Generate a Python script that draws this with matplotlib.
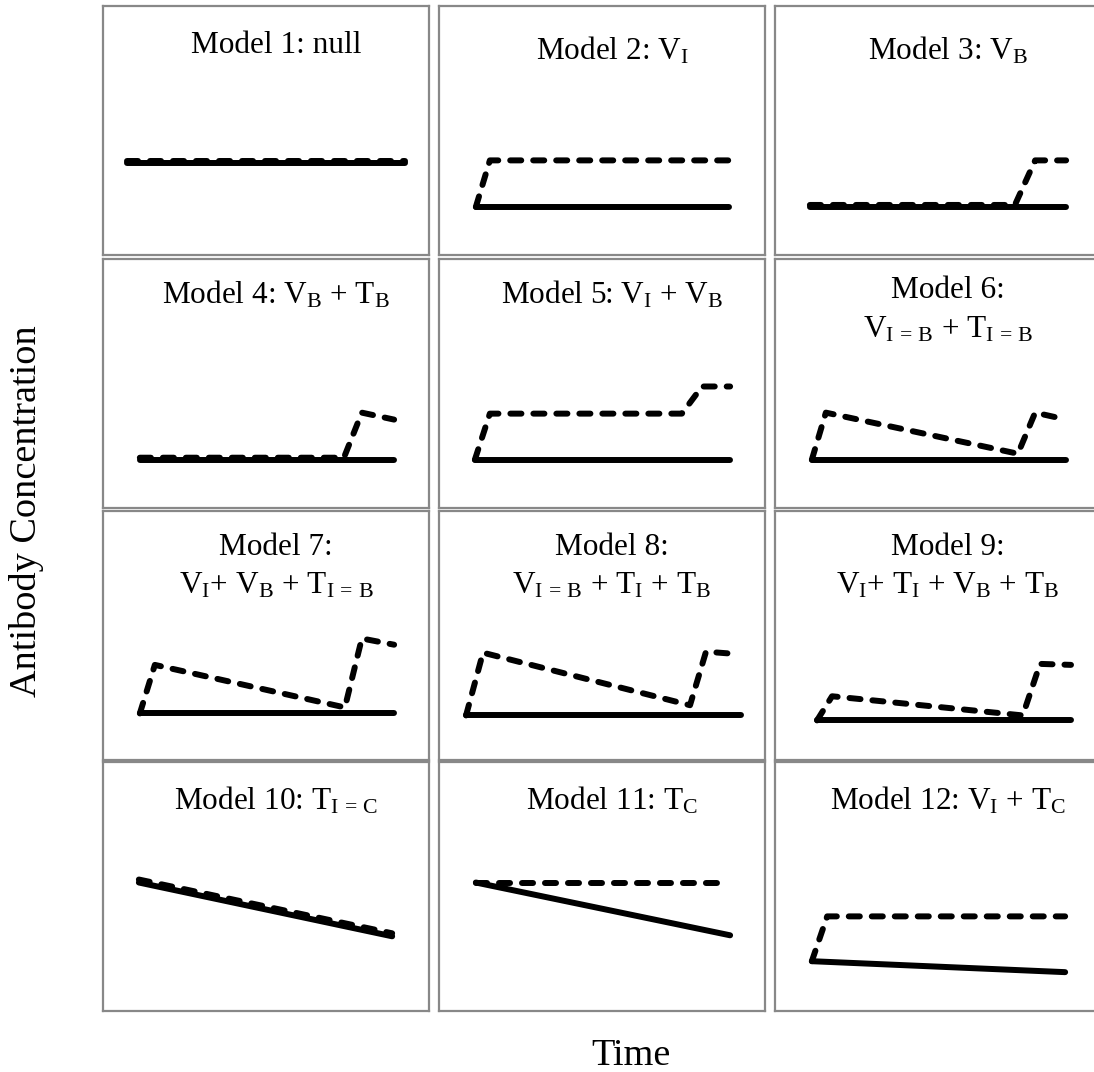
import matplotlib
matplotlib.use('Agg')
from matplotlib import pyplot as plt

plt.rcParams['font.family'] = ['Liberation Serif', 'DejaVu Serif']
plt.rcParams['mathtext.fontset'] = 'custom'
plt.rcParams['mathtext.rm'] = 'Liberation Serif'
plt.rcParams['mathtext.it'] = 'Liberation Serif'

# panel titles, row by row (second line empty for one-line titles)
title_1 = [
  'Model 1: null',
  r'Model 2: $\mathrm{V_I}$',
  r'Model 3: $\mathrm{V_B}$',
  r'Model 4: $\mathrm{V_B}$ + $\mathrm{T_B}$',
  r'Model 5: $\mathrm{V_I}$ + $\mathrm{V_B}$',
  'Model 6:',
  'Model 7:',
  'Model 8:',
  'Model 9:',
  r'Model 10: $\mathrm{T_{I\,=\,C}}$',
  r'Model 11: $\mathrm{T_C}$',
  r'Model 12: $\mathrm{V_I}$ + $\mathrm{T_C}$',
]
title_2 = [
  '', '', '',
  '', '', r'$\mathrm{V_{I\,=\,B}}$ + $\mathrm{T_{I\,=\,B}}$',
  r'$\mathrm{V_I}$+ $\mathrm{V_B}$ + $\mathrm{T_{I\,=\,B}}$',
  r'$\mathrm{V_{I\,=\,B}}$ + $\mathrm{T_I}$ + $\mathrm{T_B}$',
  r'$\mathrm{V_I}$+ $\mathrm{T_I}$ + $\mathrm{V_B}$ + $\mathrm{T_B}$',
  '', '', '',
]

# solid line (baseline) per model: time, concentration (0-100 scale)
solid_t = [
  [7.4, 92.6], [11.3, 89.0], [10.7, 89.3],
  [11.3, 89.3], [11.0, 89.3], [11.3, 89.3],
  [11.3, 89.3], [8.3, 92.6], [12.9, 90.8],
  [11.0, 88.7], [11.3, 89.3], [11.3, 89.0],
]
solid_c = [
  [37.0, 37.0], [19.3, 19.3], [19.3, 19.3],
  [19.4, 19.4], [19.4, 19.4], [19.4, 19.4],
  [18.7, 18.7], [17.9, 17.9], [15.9, 15.9],
  [51.6, 30.0], [51.6, 30.4], [20.0, 15.6],
]

# dashed line (vaccinated) per model
dash_t = [
  [7.4, 92.6],
  [11.3, 15.6, 89.0],
  [10.7, 73.6, 79.8, 89.3],
  [11.3, 73.9, 79.4, 89.3],
  [11.0, 15.6, 74.5, 80.7, 89.3],
  [11.3, 15.6, 74.5, 79.8, 88.0],
  [11.3, 15.9, 74.2, 79.4, 89.3],
  [8.3, 13.5, 77.0, 81.9, 89.9],
  [12.9, 17.5, 76.0, 81.3, 90.8],
  [11.0, 88.7],
  [11.3, 86.2],
  [11.3, 16.0, 89.0],
]
dash_c = [
  [37.6, 37.6],
  [19.3, 38.0, 38.0],
  [20.1, 20.1, 38.0, 38.0],
  [20.2, 20.2, 38.3, 35.5],
  [19.4, 37.9, 37.9, 48.8, 48.8],
  [19.4, 38.3, 21.8, 38.3, 35.9],
  [18.7, 38.2, 21.1, 48.8, 46.3],
  [17.9, 43.1, 22.0, 43.5, 42.7],
  [15.9, 25.6, 17.9, 38.6, 38.2],
  [52.8, 31.2],
  [51.6, 51.6],
  [20.0, 38.0, 38.0],
]

W, H = 1094, 1072
fig = plt.figure(figsize=(W/100.0, H/100.0), dpi=100)

# layout in pixels
col_x = [103, 439, 775]
row_y = [6, 259, 511, 762]
pw, ph = 326, 249
base_1 = [47, 54, 54, 44, 44, 39, 44, 44, 44, 47, 48, 48]   # title baseline below panel top
line_gap = 39

for i in range(12):
  r = i // 3
  c = i % 3
  ax = fig.add_axes([col_x[c]/W, 1 - (row_y[r]+ph)/H, pw/W, ph/H])
  ax.set_xlim(0, 100)
  ax.set_ylim(0, 100)
  ax.set_xticks([])
  ax.set_yticks([])
  for s in ax.spines.values():
    s.set_color('#888888')
    s.set_linewidth(1.6)

  ax.plot(solid_t[i], solid_c[i], color='black', lw=4.3,
    solid_capstyle='round', solid_joinstyle='round', zorder=2)
  ax.plot(dash_t[i], dash_c[i], color='black', lw=4.3,
    dashes=(1.85, 2.0), dash_capstyle='round', dash_joinstyle='round', zorder=3)

  tx = (col_x[c] + pw/2 + 10) / W
  ty = 1 - (row_y[r] + base_1[i]) / H
  fig.text(tx, ty, title_1[i], ha='center', va='baseline', fontsize=22.5)
  if title_2[i]:
    ty2 = 1 - (row_y[r] + base_1[i] + line_gap) / H
    fig.text(tx, ty2, title_2[i], ha='center', va='baseline', fontsize=22.5)

fig.text(27/W, 1 - 511/H, 'Antibody Concentration', rotation=90,
  ha='center', va='center', fontsize=27.5)
fig.text(631/W, 1 - 1065/H, 'Time', ha='center', va='baseline', fontsize=27.5)

plt.savefig('out.png', dpi=100)
